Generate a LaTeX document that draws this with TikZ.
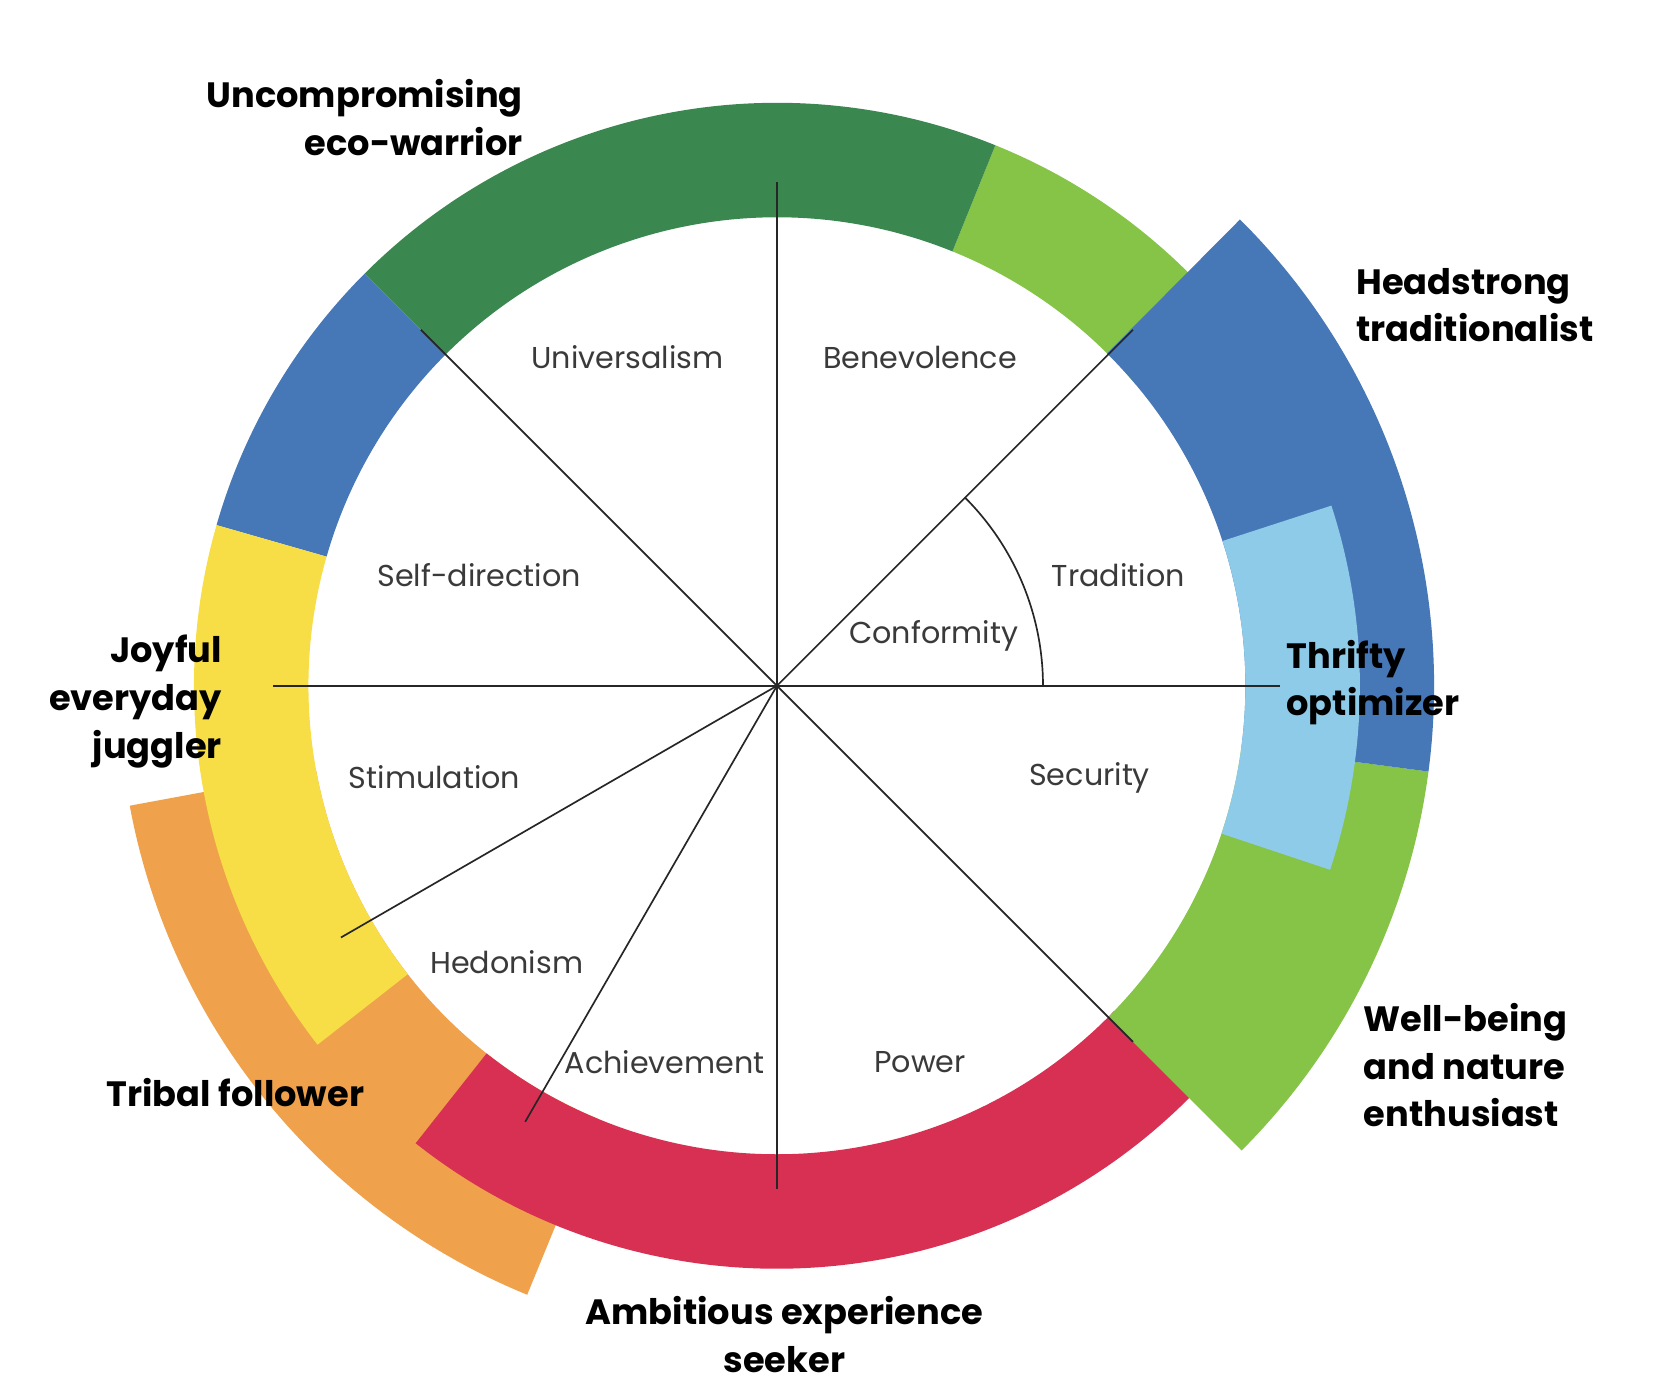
\documentclass[tikz,border=0pt]{standalone}
\usepackage{fontspec}
\setmainfont{Poppins}

% band colours
\definecolor{ecogreen}{HTML}{3B8750}
\definecolor{leafgreen}{HTML}{85C446}
\definecolor{steelblue}{HTML}{4677B7}
\definecolor{skyblue}{HTML}{8DCBE8}
\definecolor{sunyellow}{HTML}{F7DE46}
\definecolor{tribalorange}{HTML}{EFA14B}
\definecolor{ambitionred}{HTML}{D83052}
\definecolor{labelgray}{HTML}{3A3A3A}

% annular sector: colour, start angle, end angle, inner radius, outer radius
\newcommand\ringband[5]{%
  \fill[#1] (#2:#4) arc[start angle=#2, end angle=#3, radius=#4]
    -- (#3:#5) arc[start angle=#3, end angle=#2, radius=#5] -- cycle;}

\tikzset{
  spoke/.style={draw=black!85, line width=0.45pt},
  valuelabel/.style={font=\fontsize{8.1}{10}\selectfont, text=labelgray, inner sep=0pt},
  persona/.style={font=\bfseries\fontsize{9.45}{12.8}\selectfont, text=black, inner sep=0pt}
}

\begin{document}
\begin{tikzpicture}
\useasboundingbox (-7.33,-6.59) rectangle (8.35,6.47);
\fill[white] (-7.33,-6.59) rectangle (8.35,6.47);

% wide outer bands underneath
\ringband{tribalorange}{190.5}{247.7}{4.42}{6.21}

% main ring
\ringband{leafgreen}{40}{68}{4.42}{5.50}
\ringband{ecogreen}{68}{135}{4.42}{5.50}
\ringband{steelblue}{135}{164}{4.42}{5.50}
\ringband{sunyellow}{164}{218}{4.42}{5.50}
\ringband{ambitionred}{231.7}{316}{4.42}{5.50}

% wide bands on the right
\ringband{leafgreen}{315}{352.5}{4.42}{6.20}
\ringband{steelblue}{352.5}{405.2}{4.42}{6.20}
\ringband{skyblue}{-18.4}{18}{4.42}{5.50}

% spokes of the value circle
\coordinate (O) at (0,0);
\foreach \a in {0,45,90,135,180,210,240,270,315}{
  \coordinate (e\a) at (\a:4.75);
  \draw[spoke] (O) -- (e\a);
}
\coordinate (c0) at (0:2.51);
\draw[spoke] (c0) arc[start angle=0, end angle=45, radius=2.51];

% value labels
\node[valuelabel] (universalism) at (-1.41,3.10) {Universalism};
\node[valuelabel] (benevolence) at (1.35,3.10) {Benevolence};
\node[valuelabel] (selfdirection) at (-2.81,1.04) {Self-direction};
\node[valuelabel] (tradition) at (3.22,1.04) {Tradition};
\node[valuelabel] (conformity) at (1.48,0.47) {Conformity};
\node[valuelabel] (stimulation) at (-3.23,-0.86) {Stimulation};
\node[valuelabel] (security) at (2.95,-0.87) {Security};
\node[valuelabel] (hedonism) at (-2.55,-2.61) {Hedonism};
\node[valuelabel] (achievement) at (-1.06,-3.55) {Achievement};
\node[valuelabel] (power) at (1.35,-3.55) {Power};

% persona labels
\node[persona, anchor=east, align=right] (eco) at (-2.39,5.36) {Uncompromising\\eco-warrior};
\node[persona, anchor=west, align=left] (headstrong) at (5.46,3.59) {Headstrong\\traditionalist};
\node[persona, anchor=west, align=left] (thrifty) at (4.80,0.03) {Thrifty\\optimizer};
\node[persona, anchor=east, align=right] (joyful) at (-5.23,-0.15) {Joyful\\everyday\\juggler};
\node[persona, anchor=west, align=left] (tribal) at (-6.33,-3.84) {Tribal follower};
\node[persona, align=center] (ambitious) at (0.07,-6.12) {Ambitious experience\\seeker};
\node[persona, anchor=west, align=left] (wellbeing) at (5.53,-3.58) {Well-being\\and nature\\enthusiast};
\end{tikzpicture}
\end{document}
